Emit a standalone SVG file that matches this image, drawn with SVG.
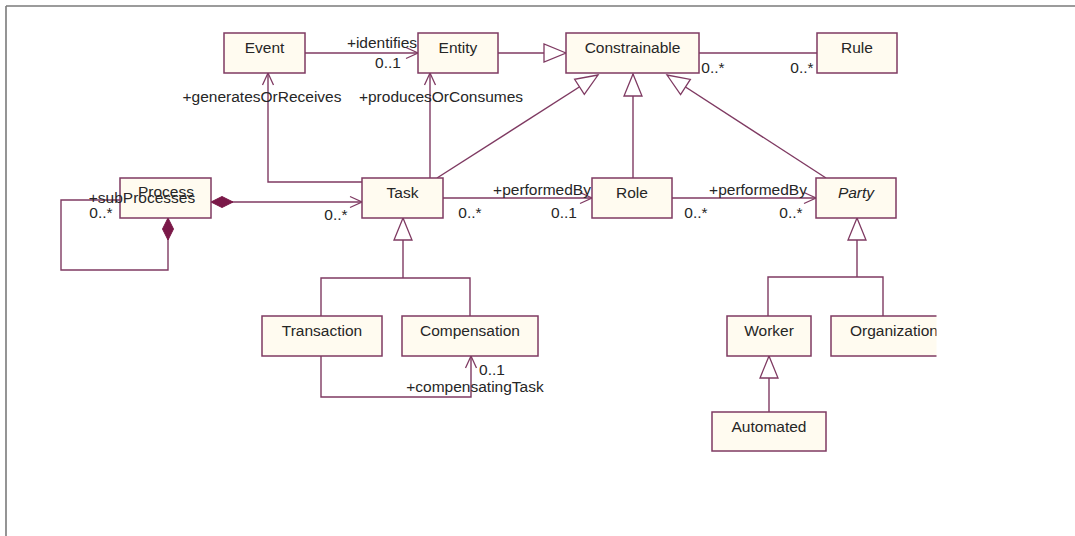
<svg xmlns="http://www.w3.org/2000/svg" width="1075" height="536" viewBox="0 0 1075 536">
  <style>
    .box { fill: #fffbf0; stroke: #7f3a62; stroke-width: 1.5; }
    .lbl { font-family: "Liberation Sans", Arial, sans-serif; font-size: 15.5px; fill: #262626; }
    .name { text-anchor: middle; }
    .mid { text-anchor: middle; }
    .conn { fill: none; stroke: #7f3a62; stroke-width: 1.4; }
    .frame { stroke: #7a7a7a; stroke-width: 1.6; }
  </style>
  <defs>
    <!-- open navigability arrowhead -->
    <marker id="open" markerUnits="userSpaceOnUse" markerWidth="16" markerHeight="14" viewBox="-14 -7 16 14" refX="0" refY="0" orient="auto" overflow="visible">
      <path d="M-12,-5.5 L0,0 L-12,5.5" fill="none" stroke="#7f3a62" stroke-width="1.3"/>
    </marker>
    <!-- hollow generalization triangle -->
    <marker id="gen" markerUnits="userSpaceOnUse" markerWidth="24" markerHeight="22" viewBox="-22 -11 24 22" refX="0" refY="0" orient="auto" overflow="visible">
      <path d="M0,0 L-22,-9 L-22,9 Z" fill="#ffffff" stroke="#7f3a62" stroke-width="1.3"/>
    </marker>
    <!-- filled composition diamond -->
    <marker id="comp" markerUnits="userSpaceOnUse" markerWidth="24" markerHeight="14" viewBox="-1 -7 24 14" refX="0" refY="0" orient="auto" overflow="visible">
      <path d="M0,0 L11,-5.5 L22,0 L11,5.5 Z" fill="#7a1848" stroke="#7a1848" stroke-width="1"/>
    </marker>
    <clipPath id="orgClip">
      <rect x="820" y="300" width="116.5" height="70"/>
    </clipPath>
  </defs>

  <rect x="0" y="0" width="1075" height="536" fill="#ffffff"/>

  <!-- page frame -->
  <g id="frame">
    <line class="frame" x1="6" y1="6" x2="1075" y2="6"/>
    <line class="frame" x1="6" y1="6" x2="6" y2="536"/>
  </g>

  <!-- connectors -->
  <g id="connectors">
    <!-- Event -> Entity -->
    <path class="conn" d="M305,53 H418" marker-end="url(#open)"/>
    <!-- Entity generalizes to Constrainable -->
    <path class="conn" d="M498,53 H566" marker-end="url(#gen)"/>
    <!-- Constrainable - Rule -->
    <path class="conn" d="M699,53 H817"/>
    <!-- Task -> Event -->
    <path class="conn" d="M362,182 H268 V73" marker-end="url(#open)"/>
    <!-- Task -> Entity -->
    <path class="conn" d="M430,178 V73" marker-end="url(#open)"/>
    <!-- Task, Role, Party generalize to Constrainable -->
    <path class="conn" d="M437,178 L598,75" marker-end="url(#gen)"/>
    <path class="conn" d="M633,178 V74" marker-end="url(#gen)"/>
    <path class="conn" d="M826,178 L667,75" marker-end="url(#gen)"/>
    <!-- Process composes Task -->
    <path class="conn" d="M211,202 H362" marker-start="url(#comp)" marker-end="url(#open)"/>
    <!-- Process subProcesses self loop -->
    <path class="conn" d="M168,218 V270 H61 V200 H120" marker-start="url(#comp)"/>
    <!-- Task -> Role -->
    <path class="conn" d="M443,198 H592" marker-end="url(#open)"/>
    <!-- Role -> Party -->
    <path class="conn" d="M672,198 H816" marker-end="url(#open)"/>
    <!-- Transaction / Compensation generalize to Task -->
    <path class="conn" d="M403,278 V218" marker-end="url(#gen)"/>
    <path class="conn" d="M321,316 V278 H470 V316"/>
    <!-- Transaction -> Compensation -->
    <path class="conn" d="M321,356 V397 H471 V356" marker-end="url(#open)"/>
    <!-- Worker / Organization generalize to Party -->
    <path class="conn" d="M857,277 V218" marker-end="url(#gen)"/>
    <path class="conn" d="M768,316 V277 H883 V316"/>
    <!-- Automated generalizes to Worker -->
    <path class="conn" d="M769,412 V356" marker-end="url(#gen)"/>
  </g>

  <!-- connector labels -->
  <g id="connector-labels" class="lbl">
    <text class="mid" x="382" y="48">+identifies</text>
    <text class="mid" x="388" y="68">0..1</text>
    <text class="mid" x="262" y="102">+generatesOrReceives</text>
    <text class="mid" x="441" y="102">+producesOrConsumes</text>
    <text class="mid" x="713" y="73">0..*</text>
    <text class="mid" x="802" y="73">0..*</text>
    <text class="mid" x="336" y="220">0..*</text>
    <text class="mid" x="101" y="218">0..*</text>
    <text class="mid" x="542" y="195">+performedBy</text>
    <text class="mid" x="470" y="218">0..*</text>
    <text class="mid" x="564" y="218">0..1</text>
    <text class="mid" x="758" y="195">+performedBy</text>
    <text class="mid" x="696" y="218">0..*</text>
    <text class="mid" x="791" y="218">0..*</text>
    <text class="mid" x="492" y="375">0..1</text>
    <text class="mid" x="475" y="392">+compensatingTask</text>
  </g>

  <!-- classes -->
  <g id="Event">
    <rect class="box" x="224" y="33" width="81" height="40"/>
    <text class="lbl name" x="264.5" y="53">Event</text>
  </g>
  <g id="Entity">
    <rect class="box" x="418" y="33" width="80" height="40"/>
    <text class="lbl name" x="458" y="53">Entity</text>
  </g>
  <g id="Constrainable">
    <rect class="box" x="566" y="33" width="133" height="40"/>
    <text class="lbl name" x="632.5" y="53">Constrainable</text>
  </g>
  <g id="Rule">
    <rect class="box" x="817" y="33" width="80" height="40"/>
    <text class="lbl name" x="857" y="53">Rule</text>
  </g>
  <g id="Process">
    <rect class="box" x="120" y="178" width="91" height="40"/>
    <text class="lbl name" x="166" y="197">Process</text>
  </g>
  <g id="Task">
    <rect class="box" x="362" y="178" width="81" height="40"/>
    <text class="lbl name" x="402.5" y="198">Task</text>
  </g>
  <g id="Role">
    <rect class="box" x="592" y="178" width="80" height="40"/>
    <text class="lbl name" x="632" y="198">Role</text>
  </g>
  <g id="Party">
    <rect class="box" x="816" y="178" width="80" height="40"/>
    <text class="lbl name" x="856" y="198" font-style="italic">Party</text>
  </g>
  <g id="Transaction">
    <rect class="box" x="262" y="316" width="120" height="40"/>
    <text class="lbl name" x="322" y="336">Transaction</text>
  </g>
  <g id="Compensation">
    <rect class="box" x="402" y="316" width="136" height="40"/>
    <text class="lbl name" x="470" y="336">Compensation</text>
  </g>
  <g id="Worker">
    <rect class="box" x="727" y="316" width="84" height="40"/>
    <text class="lbl name" x="769" y="336">Worker</text>
  </g>
  <g id="Organization" clip-path="url(#orgClip)">
    <rect class="box" x="831" y="316" width="120" height="40"/>
    <text class="lbl" x="850" y="336">Organization</text>
  </g>
  <g id="Automated">
    <rect class="box" x="712" y="412" width="114" height="39"/>
    <text class="lbl name" x="769" y="432">Automated</text>
  </g>

  <!-- role name printed across the Process box -->
  <text class="lbl mid" x="142" y="203">+subProcesses</text>
</svg>
